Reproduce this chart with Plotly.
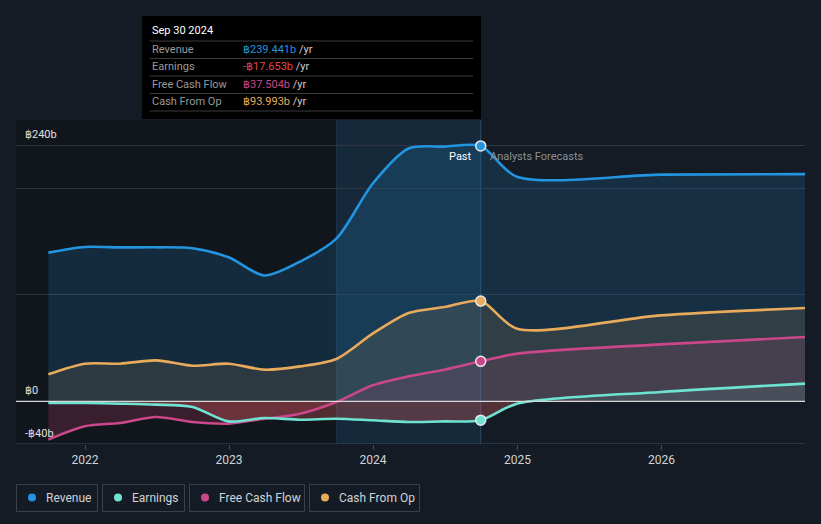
import plotly.graph_objects as go

# ---------------- data (values in THB billions) ----------------
hist_dates = ['2021-09-30', '2021-12-31', '2022-03-31', '2022-06-30', '2022-09-30',
              '2022-12-31', '2023-03-31', '2023-06-30', '2023-09-30', '2023-12-31',
              '2024-03-31', '2024-06-30', '2024-09-30']
fc_dates = ['2024-12-31', '2025-12-31', '2026-12-31']

revenue_hist = [139.4, 144.7, 144.3, 144.4, 143.5, 135.0, 118.0, 131.0, 152.5, 204.0, 237.0, 238.8, 239.441]
revenue_fc = [210.5, 212.5, 213.0]
earnings_hist = [-1.6, -1.6, -2.2, -3.1, -5.3, -18.8, -15.6, -17.2, -16.3, -17.8, -19.4, -18.8, -17.653]
earnings_fc = [-2.2, 8.8, 16.6]
fcf_hist = [-35.9, -23.4, -20.3, -14.7, -19.4, -20.9, -16.3, -11.6, -0.6, 15.0, 23.4, 29.7, 37.504]
fcf_fc = [44.7, 53.4, 60.3]
cfo_hist = [25.3, 35.3, 35.3, 38.4, 33.4, 35.3, 29.7, 32.8, 39.7, 63.4, 82.8, 88.4, 93.993]
cfo_fc = [68.1, 80.6, 87.5]

series_names = ['Revenue', 'Earnings', 'Free Cash Flow', 'Cash From Op']
series_colors = ['#2394df', '#6fe3d1', '#c9478a', '#e8ab5c']
fill_colors = ['rgba(35,148,223,0.17)', 'rgba(111,227,209,0.10)',
               'rgba(201,71,138,0.14)', 'rgba(232,171,92,0.12)']
neg_fill_colors = {1: 'rgba(210,55,60,0.30)', 2: 'rgba(200,50,70,0.10)'}

tooltip_date = 'Sep 30 2024'
tooltip_values = ['฿239.441b', '-฿17.653b', '฿37.504b', '฿93.993b']
tooltip_value_colors = ['#2394df', '#e5484d', '#c9478a', '#e8ab5c']

y_labels = [(240, '฿240b'), (0, '฿0'), (-40, '-฿40b')]
grid_vals = [-40, 0, 100, 200, 240]
x_ticks = ['2022-01-01', '2023-01-01', '2024-01-01', '2025-01-01', '2026-01-01']
x_ticktext = ['2022', '2023', '2024', '2025', '2026']

past_start = '2023-09-30'
past_end = '2024-09-30'
x_range = ['2021-07-10', '2026-12-31']

# ---------------- layout geometry (window pixels; page body has 8px margin) ----------------
BODY = 8
W, H = 821 - BODY, 524 - BODY
PL, PR, PT, PB = 16, 805, 120, 444          # plot area in window pixels
ML, MR, MT, MB = PL - BODY, 821 - PR, PT - BODY, 524 - PB
PW = PR - PL
PH = PB - PT

def px(x):
    return (x - PL) / PW

def py(y):
    return (PB - y) / PH

BG = '#151b24'
FONT = 'Roboto, "Open Sans", sans-serif'

fig = go.Figure()

all_dates = hist_dates + fc_dates
hist_sets = [revenue_hist, earnings_hist, fcf_hist, cfo_hist]
fc_sets = [revenue_fc, earnings_fc, fcf_fc, cfo_fc]
LINE = dict(shape='spline', smoothing=0.8)

order = [0, 3, 2, 1]
for i in order:
    vals = hist_sets[i] + fc_sets[i]
    fig.add_trace(go.Scatter(
        x=all_dates, y=vals, mode='lines', name=series_names[i],
        line=dict(color=series_colors[i], width=0, **LINE),
        fill='tozeroy', fillcolor=fill_colors[i], hoverinfo='skip', showlegend=False))

for i in [2, 1]:
    vals = hist_sets[i] + fc_sets[i]
    neg = [min(v, 0) for v in vals]
    fig.add_trace(go.Scatter(
        x=all_dates, y=neg, mode='lines', line=dict(width=0, **LINE),
        fill='tozeroy', fillcolor=neg_fill_colors[i], hoverinfo='skip', showlegend=False))

for i in order:
    vals = hist_sets[i] + fc_sets[i]
    fig.add_trace(go.Scatter(
        x=all_dates, y=vals, mode='lines',
        line=dict(color=series_colors[i], width=2.6, **LINE),
        hoverinfo='skip', showlegend=False))

for i in range(4):
    fig.add_trace(go.Scatter(
        x=[hist_dates[-1]], y=[hist_sets[i][-1]], mode='markers',
        marker=dict(size=10, color=series_colors[i], line=dict(color='#e8e8e8', width=1.5)),
        hoverinfo='skip', showlegend=False))

shapes = []
shapes.append(dict(type='rect', xref='x', yref='paper', x0=x_range[0], x1=past_start,
                   y0=0, y1=1, fillcolor='#11151c', line=dict(width=0), layer='below'))
shapes.append(dict(type='rect', xref='x', yref='paper', x0=past_start, x1=past_end,
                   y0=0, y1=1, fillcolor='rgba(35,148,223,0.12)', line=dict(width=0), layer='below'))
shapes.append(dict(type='line', xref='x', yref='paper', x0=past_start, x1=past_start,
                   y0=0, y1=1, line=dict(color='rgba(50,90,130,0.35)', width=1), layer='below'))
shapes.append(dict(type='line', xref='x', yref='paper', x0=past_end, x1=past_end,
                   y0=0, y1=1, line=dict(color='rgba(60,110,150,0.55)', width=1), layer='below'))
shapes.append(dict(type='line', xref='paper', yref='y', x0=0, x1=1, y0=0, y1=0,
                   line=dict(color='#d8d8d8', width=1.2)))
shapes.append(dict(type='line', xref='paper', yref='y', x0=0, x1=1, y0=-40, y1=-40,
                   line=dict(color='#454a52', width=1.2)))

shapes.append(dict(type='rect', xref='paper', yref='paper', x0=px(142), x1=px(481),
                   y0=py(119), y1=py(16), fillcolor='#000000', line=dict(width=0)))
for sy in [41, 58.5, 76, 93.5, 111]:
    shapes.append(dict(type='line', xref='paper', yref='paper', x0=px(150), x1=px(473),
                       y0=py(sy), y1=py(sy), line=dict(color='#3a3a3a', width=1)))

annotations = []
annotations.append(dict(xref='paper', yref='paper', x=px(150), y=py(31), text=tooltip_date,
                        showarrow=False, xanchor='left', yanchor='middle',
                        font=dict(color='#ffffff', size=11, family=FONT)))
for k, (nm, val, col) in enumerate(zip(series_names, tooltip_values, tooltip_value_colors)):
    yy = py(49.5 + 17.3 * k)
    annotations.append(dict(xref='paper', yref='paper', x=px(150), y=yy, text=nm,
                            showarrow=False, xanchor='left', yanchor='middle',
                            font=dict(color='#9a9a9a', size=11, family=FONT)))
    annotations.append(dict(xref='paper', yref='paper', x=px(241), y=yy,
                            text=f'<span style="color:{col}">{val}</span> <span style="color:#cfcfcf">/yr</span>',
                            showarrow=False, xanchor='left', yanchor='middle',
                            font=dict(color=col, size=11, family=FONT)))

for v, t in y_labels:
    annotations.append(dict(xref='paper', yref='y', x=px(23), y=v, text=t, showarrow=False,
                            xanchor='left', yanchor='bottom', yshift=2,
                            font=dict(color='#e0e0e0', size=11, family=FONT)))

annotations.append(dict(xref='x', yref='paper', x=past_end, y=py(156), text='Past',
                        showarrow=False, xanchor='right', xshift=-7, yanchor='middle',
                        font=dict(color='#ffffff', size=11, family=FONT)))
annotations.append(dict(xref='x', yref='paper', x=past_end, y=py(156), text='Analysts Forecasts',
                        showarrow=False, xanchor='left', xshift=7, yanchor='middle',
                        font=dict(color='#8c9096', size=11, family=FONT)))

legend_boxes = [(16.5, 97.5), (102.5, 184.5), (189.5, 304.5), (309.5, 419.5)]
for (x0, x1), nm, col in zip(legend_boxes, series_names, series_colors):
    shapes.append(dict(type='rect', xref='paper', yref='paper', x0=px(x0), x1=px(x1),
                       y0=py(511.5), y1=py(484.5), line=dict(color='#3b4049', width=1),
                       fillcolor='rgba(0,0,0,0)'))
    shapes.append(dict(type='circle', xref='paper', yref='paper', x0=px(x0 + 11.5), x1=px(x0 + 19.5),
                       y0=py(501.5), y1=py(493.5), fillcolor=col, line=dict(width=0)))
    annotations.append(dict(xref='paper', yref='paper', x=px(x0 + 27.5), y=py(497.5), text=nm,
                            showarrow=False, xanchor='left', yanchor='middle',
                            font=dict(color='#d0d3d7', size=12, family=FONT)))

fig.update_layout(
    width=W, height=H,
    margin=dict(l=ML, r=MR, t=MT, b=MB, pad=0),
    paper_bgcolor=BG, plot_bgcolor=BG,
    showlegend=False,
    shapes=shapes, annotations=annotations,
    font=dict(family=FONT, color='#d0d3d7'),
    xaxis=dict(type='date', range=x_range, tickvals=x_ticks, ticktext=x_ticktext,
               showgrid=False, zeroline=False, showline=False, ticks='outside', ticklen=5,
               tickcolor='#454a52', tickfont=dict(color='#d0d3d7', size=12, family=FONT)),
    yaxis=dict(range=[-40, 263.75], tickvals=grid_vals, showticklabels=False, showgrid=True,
               gridcolor='#30363f', gridwidth=1, zeroline=False, showline=False, fixedrange=True),
    hovermode=False,
)

fig.write_html('out.html', post_script="document.body.style.backgroundColor='%s';" % BG)
